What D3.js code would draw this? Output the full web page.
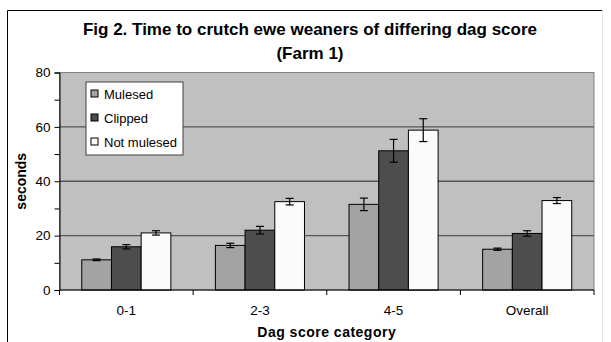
<!DOCTYPE html>
<html>
<head>
<meta charset="utf-8">
<script src="https://cdn.jsdelivr.net/npm/d3@7"></script>
<style>
  body { margin: 0; background: #fff; }
  text { font-family: "Liberation Sans", Arial, sans-serif; }
</style>
</head>
<body>
<svg width="611" height="342"></svg>
<script>
const categories = ["0-1", "2-3", "4-5", "Overall"];
const seriesNames = ["Mulesed", "Clipped", "Not mulesed"];
const mulesed = [11.1, 16.4, 31.5, 15.0];
const clipped = [15.9, 22.0, 51.2, 20.8];
const notMulesed = [21.0, 32.5, 58.8, 32.9];
const mulesedErr = [0.3, 0.8, 2.3, 0.4];
const clippedErr = [0.8, 1.4, 4.2, 1.0];
const notMulesedErr = [0.8, 1.2, 4.2, 1.1];
const yTicks = [0, 20, 40, 60, 80];

const colors = ["#a3a3a3", "#4d4d4d", "#fbfbfb"];
const values = [mulesed, clipped, notMulesed];
const errors = [mulesedErr, clippedErr, notMulesedErr];

const svg = d3.select("svg");
const plotLeft = 59.5, plotRight = 594, plotTop = 72.5, plotBottom = 290;

// outer frame (cropped at the bottom)
svg.append("path")
    .attr("d", "M7.5,342 V10.5 H602")
    .attr("fill", "none")
    .attr("stroke", "#000");
svg.append("line")
    .attr("x1", 602.5).attr("x2", 602.5).attr("y1", 10).attr("y2", 342)
    .attr("stroke", "#e4e4e4");

const x0 = d3.scaleBand().domain(categories).range([plotLeft, plotRight]);
const x1 = d3.scaleBand().domain(seriesNames).range([0, x0.bandwidth()]).paddingOuter(0.75);
const y = d3.scaleLinear().domain([0, 80]).range([plotBottom, plotTop]);

svg.append("rect")
    .attr("x", plotLeft).attr("y", plotTop)
    .attr("width", plotRight - plotLeft).attr("height", plotBottom - plotTop)
    .attr("fill", "#c0c0c0")
    .attr("stroke", "#808080");

svg.append("g")
    .selectAll("line")
    .data(yTicks.slice(1, -1))
    .join("line")
    .attr("x1", plotLeft).attr("x2", plotRight)
    .attr("y1", d => y(d)).attr("y2", d => y(d))
    .attr("stroke", "#555")
    .attr("stroke-width", 1.3);

// bars + error bars
const groups = svg.append("g")
    .selectAll("g")
    .data(seriesNames)
    .join("g");

groups.each(function(name, si) {
    const g = d3.select(this);
    g.selectAll("rect")
        .data(categories)
        .join("rect")
        .attr("x", c => x0(c) + x1(name))
        .attr("y", (c, i) => y(values[si][i]))
        .attr("width", x1.bandwidth())
        .attr("height", (c, i) => plotBottom - y(values[si][i]))
        .attr("fill", colors[si])
        .attr("stroke", "#000")
        .attr("stroke-width", 1);

    const eb = g.selectAll("g.err")
        .data(categories)
        .join("g")
        .attr("class", "err")
        .attr("stroke", "#000")
        .attr("stroke-width", 1.2);
    eb.each(function(c, i) {
        const cx = x0(c) + x1(name) + x1.bandwidth() / 2;
        const hi = y(values[si][i] + errors[si][i]);
        const lo = y(values[si][i] - errors[si][i]);
        const e = d3.select(this);
        e.append("line").attr("x1", cx).attr("x2", cx).attr("y1", hi).attr("y2", lo);
        e.append("line").attr("x1", cx - 4).attr("x2", cx + 4).attr("y1", hi).attr("y2", hi);
        e.append("line").attr("x1", cx - 4).attr("x2", cx + 4).attr("y1", lo).attr("y2", lo);
    });
});

// y axis
const yAxis = d3.axisLeft(y).tickValues(d3.range(0, 81, 10)).tickSize(5)
    .tickFormat(d => yTicks.includes(d) ? d : "");
svg.append("g")
    .attr("transform", `translate(${plotLeft},0)`)
    .call(yAxis)
    .call(g => g.select(".domain").attr("stroke", "#000"))
    .call(g => g.selectAll("text").attr("font-size", 13.5).attr("fill", "#000").attr("dx", -1));

// x axis
const xAxis = d3.axisBottom(x0).tickSize(0).tickPadding(15);
const xg = svg.append("g")
    .attr("transform", `translate(0,${plotBottom})`)
    .call(xAxis)
    .call(g => g.select(".domain").attr("stroke", "#000").attr("d", `M${plotLeft},0H${plotRight}`))
    .call(g => g.selectAll("text").attr("font-size", 13.5).attr("fill", "#000"));
xg.selectAll("line.bound")
    .data(d3.range(categories.length + 1))
    .join("line")
    .attr("class", "bound")
    .attr("x1", i => plotLeft + i * x0.bandwidth())
    .attr("x2", i => plotLeft + i * x0.bandwidth())
    .attr("y1", 0).attr("y2", 5)
    .attr("stroke", "#000");

// titles
svg.append("text")
    .attr("x", 310).attr("y", 35)
    .attr("text-anchor", "middle")
    .attr("font-size", 17).attr("font-weight", "bold")
    .text("Fig 2. Time to crutch ewe weaners of differing dag score");
svg.append("text")
    .attr("x", 310).attr("y", 59)
    .attr("text-anchor", "middle")
    .attr("font-size", 17).attr("font-weight", "bold")
    .text("(Farm 1)");

svg.append("text")
    .attr("transform", `translate(26,${(plotTop + plotBottom) / 2}) rotate(-90)`)
    .attr("text-anchor", "middle")
    .attr("font-size", 14).attr("font-weight", "bold")
    .text("seconds");

svg.append("text")
    .attr("x", (plotLeft + plotRight) / 2).attr("y", 337)
    .attr("text-anchor", "middle")
    .attr("font-size", 14).attr("font-weight", "bold")
    .attr("letter-spacing", 0.5)
    .text("Dag score category");

// legend
const legend = svg.append("g").attr("transform", "translate(86,82)");
legend.append("rect")
    .attr("width", 97).attr("height", 73)
    .attr("fill", "#fff")
    .attr("stroke", "#404040");
const items = legend.selectAll("g.item")
    .data(seriesNames)
    .join("g")
    .attr("class", "item")
    .attr("transform", (d, i) => `translate(5,${12 + i * 24})`);
items.append("rect")
    .attr("x", 0).attr("y", -4)
    .attr("width", 7).attr("height", 7)
    .attr("fill", (d, i) => colors[i])
    .attr("stroke", "#000");
items.append("text")
    .attr("x", 13).attr("y", 5)
    .attr("font-size", 13)
    .text(d => d);
</script>
</body>
</html>
